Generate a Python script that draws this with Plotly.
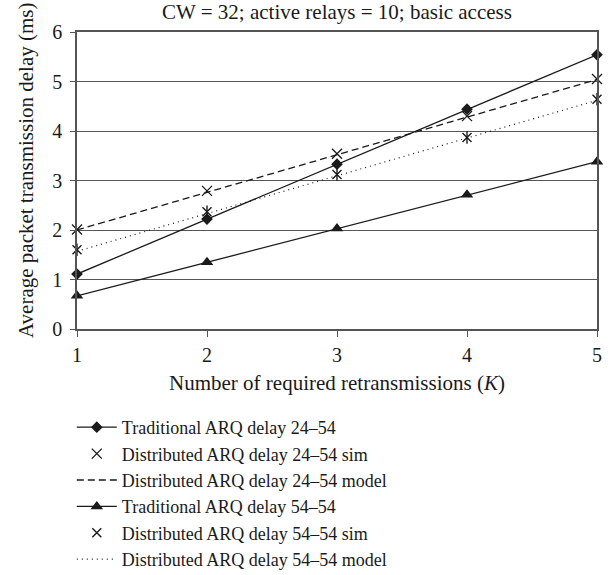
import plotly.graph_objects as go

K = [1, 2, 3, 4, 5]
trad_24 = [1.11, 2.22, 3.33, 4.44, 5.54]
dist_24_sim = [2.01, 2.79, 3.54, 4.30, 5.05]
dist_24_model = [2.00, 2.76, 3.52, 4.28, 5.04]
trad_54 = [0.67, 1.35, 2.03, 2.71, 3.38]
dist_54_sim = [1.60, 2.37, 3.12, 3.87, 4.64]
dist_54_model = [1.57, 2.33, 3.10, 3.86, 4.62]

names = [
    "Traditional ARQ delay 24\u201354",
    "Distributed ARQ delay 24\u201354 sim",
    "Distributed ARQ delay 24\u201354 model",
    "Traditional ARQ delay 54\u201354",
    "Distributed ARQ delay 54\u201354 sim",
    "Distributed ARQ delay 54\u201354 model",
]

FONT = "Liberation Serif, Times New Roman, serif"
FS = 20
TFS = 21
BLK = "#1a1a1a"

fig = go.Figure()
fig.add_trace(go.Scatter(x=K, y=trad_24, name=names[0], mode="lines+markers",
                         line=dict(color=BLK, width=1.3),
                         marker=dict(symbol="diamond", size=9, color=BLK),
                         cliponaxis=False, legendgroup="a"))
fig.add_trace(go.Scatter(x=K, y=dist_24_sim, name=names[1], mode="markers",
                         marker=dict(symbol="x-thin-open", size=10, color=BLK,
                                     line=dict(color=BLK, width=1.3)),
                         cliponaxis=False, legendgroup="b"))
fig.add_trace(go.Scatter(x=K, y=dist_24_model, name=names[2], mode="lines",
                         line=dict(color=BLK, width=1.3, dash="7px,4px"),
                         cliponaxis=False, legendgroup="c"))
fig.add_trace(go.Scatter(x=K, y=trad_54, name=names[3], mode="lines+markers",
                         line=dict(color=BLK, width=1.3),
                         marker=dict(symbol="triangle-up", size=11, color=BLK),
                         cliponaxis=False, legendgroup="d"))
fig.add_trace(go.Scatter(x=K, y=dist_54_sim, name=names[4], mode="markers",
                         marker=dict(symbol="x-thin-open", size=9, color=BLK,
                                     line=dict(color=BLK, width=1.4)),
                         cliponaxis=False, legendgroup="e"))
fig.add_trace(go.Scatter(x=K, y=dist_54_sim, name=names[4], mode="markers",
                         marker=dict(symbol="line-ns-open", size=9, color=BLK,
                                     line=dict(color=BLK, width=1.4)),
                         cliponaxis=False, legendgroup="e", showlegend=False))
fig.add_trace(go.Scatter(x=K, y=dist_54_model, name=names[5], mode="lines",
                         line=dict(color=BLK, width=1.2, dash="1px,4px"),
                         cliponaxis=False, legendgroup="f"))

fig.update_layout(
    width=614, height=575,
    margin=dict(l=77, r=17, t=32, b=246),
    paper_bgcolor="white", plot_bgcolor="white",
    font=dict(family=FONT, size=FS, color=BLK),
    title=dict(text="CW = 32; active relays = 10; basic access",
               x=0.5, xref="paper", y=1 - 12 / 575, yref="container",
               yanchor="middle", xanchor="center",
               font=dict(family=FONT, size=TFS, color=BLK)),
    showlegend=True,
    legend=dict(x=-0.01, xanchor="left", xref="paper",
                y=1 - 409 / 575, yanchor="top", yref="container",
                font=dict(family=FONT, size=18, color=BLK),
                bgcolor="rgba(0,0,0,0)", itemwidth=40,
                tracegroupgap=0, traceorder="normal"),
    xaxis=dict(range=[1, 5], tickvals=K, ticks="outside", ticklen=6,
               tickcolor="#555", showgrid=False, zeroline=False,
               showline=True, linecolor="#555", linewidth=1.5, mirror=True,
               ticklabelstandoff=1,
               title=dict(text="Number of required retransmissions (<i>K</i>)",
                          font=dict(family=FONT, size=TFS, color=BLK), standoff=11),
               tickfont=dict(family=FONT, size=FS, color=BLK)),
    yaxis=dict(range=[0, 6], dtick=1, ticks="outside", ticklen=5,
               tickcolor="#555", showgrid=True, gridcolor="#555", gridwidth=1,
               zeroline=False, showline=True, linecolor="#555", linewidth=1.5,
               mirror=True, ticklabelstandoff=4,
               tickfont=dict(family=FONT, size=FS, color=BLK)),
    annotations=[dict(text="Average packet transmission delay (ms)",
                      xref="paper", yref="paper",
                      x=(26 - 77) / 520, y=(329 - 170) / 297,
                      xanchor="center", yanchor="middle", textangle=-90,
                      showarrow=False,
                      font=dict(family=FONT, size=TFS, color=BLK))],
)

fig.write_html("out.html", config={"displayModeBar": False},
               post_script="document.body.style.margin='0';document.body.style.overflow='hidden';")
